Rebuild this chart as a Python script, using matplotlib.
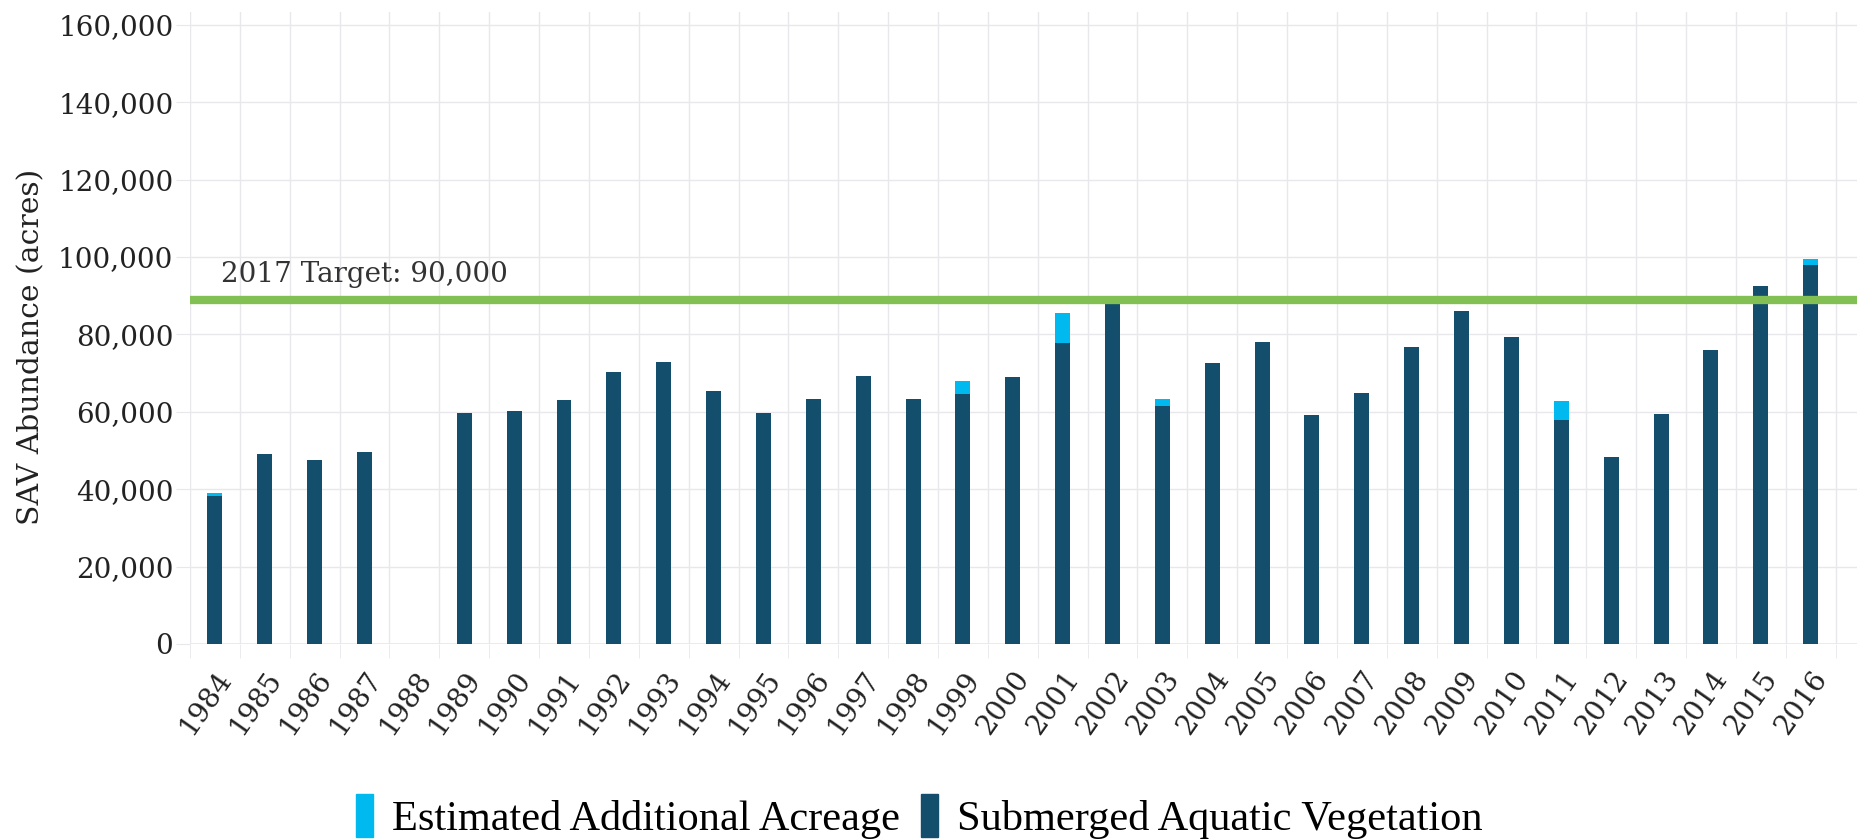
import matplotlib
matplotlib.use("Agg")
import matplotlib.pyplot as plt
from matplotlib.patches import Patch
from matplotlib.ticker import FuncFormatter, FixedLocator

years = [str(y) for y in range(1984, 2017)]
sav = [38200, 49100, 47600, 49700, 0, 59800, 60100, 63100, 70400, 72900,
       65500, 59800, 63400, 69200, 63400, 64600, 68900, 77700, 88700, 61600,
       72600, 78000, 59100, 64900, 76800, 86000, 79300, 57900, 48200, 59500,
       76000, 92500, 98000]
estimated = [800, 0, 0, 0, 0, 0, 0, 0, 0, 0,
             0, 0, 0, 0, 0, 3400, 0, 7700, 0, 1800,
             0, 0, 0, 0, 0, 0, 0, 4900, 0, 0,
             0, 0, 1500]
target_label = "2017 Target: 90,000"
target_line = 88800

dark = "#134f6d"
cyan = "#00b9ee"
green = "#82c053"
grid = "#e8e8ec"

plt.rcParams["font.family"] = "DejaVu Serif"

fig = plt.figure(figsize=(18.58, 8.39), dpi=100)
ax = fig.add_axes([190 / 1858, 1 - 644 / 839, (1858 - 190) / 1858, (644 - 12) / 839])

x = range(len(years))
ax.bar(x, sav, width=0.3, color=dark, zorder=3)
ax.bar(x, estimated, width=0.3, bottom=sav, color=cyan, zorder=3)

ax.axhline(target_line, color=green, linewidth=6, zorder=4)
ax.text(0.12, target_line + 4800, target_label, fontsize=20, color="#333333", zorder=5)

ax.set_xlim(-0.5, 32.95)
ax.set_ylim(0, 163300)
ax.set_yticks(range(0, 160001, 20000))
ax.yaxis.set_major_formatter(FuncFormatter(lambda v, p: f"{int(v):,}"))
ax.tick_params(axis="y", labelsize=20, length=10, color=grid, pad=2, labelcolor="#222222")

ax.set_xticks(list(x))
ax.set_xticklabels(years, rotation=55, ha="right", va="top", rotation_mode="anchor",
                   fontsize=20, color="#222222")
ax.tick_params(axis="x", length=0, pad=16)
ax.xaxis.set_minor_locator(FixedLocator([i - 0.5 for i in range(len(years) + 1)]))
ax.tick_params(axis="x", which="minor", length=10, color=grid)

ax.grid(axis="y", color=grid, linewidth=1, zorder=0)
ax.grid(axis="x", which="minor", color=grid, linewidth=1, zorder=0)
for s in ax.spines.values():
    s.set_visible(False)
ax.axhline(0, color=grid, linewidth=1.2, zorder=2)

ax.set_ylabel("SAV Abundance (acres)", fontsize=21.5, color="#222222")
ax.yaxis.set_label_coords(-0.087, 0.47)

handles = [Patch(color=cyan, label="Estimated Additional Acreage"),
           Patch(color=dark, label="Submerged Aquatic Vegetation")]
fig.legend(handles=handles, loc="center", bbox_to_anchor=(0.495, 0.027), ncol=2,
           frameon=False, prop={"family": "Liberation Serif", "size": 30.5},
           handlelength=0.4, handleheight=1.2, handletextpad=0.45, columnspacing=0.5)

fig.savefig("out.png", dpi=100)
